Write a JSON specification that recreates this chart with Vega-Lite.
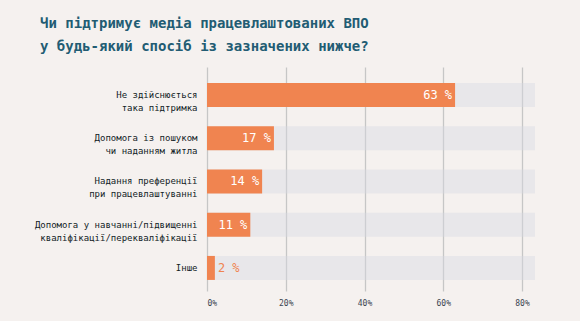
{
  "$schema": "https://vega.github.io/schema/vega-lite/v6.json",
  "width": 328,
  "height": 224,
  "autosize": "none",
  "padding": {"left": 207, "top": 67, "right": 45, "bottom": 30},
  "background": "#f5f1ef",
  "title": {
    "text": ["Чи підтримує медіа працевлаштованих ВПО", "у будь-який спосіб із зазначених нижче?"],
    "anchor": "start",
    "frame": "group",
    "dx": -167,
    "offset": 13,
    "font": "DejaVu Sans Mono",
    "fontSize": 14,
    "fontWeight": "bold",
    "color": "#225c73",
    "lineHeight": 23
  },
  "config": {
    "view": {"stroke": null},
    "axis": {"labelFont": "DejaVu Sans Mono"}
  },
  "data": {
    "values": [
      {"label": "Не здійснюється|така підтримка", "value": 63},
      {"label": "Допомога із пошуком|чи наданням житла", "value": 17},
      {"label": "Надання преференції|при працевлаштуванні", "value": 14},
      {"label": "Допомога у навчанні/підвищенні|кваліфікації/перекваліфікації", "value": 11},
      {"label": "Інше", "value": 2}
    ]
  },
  "transform": [{"calculate": "datum.value + ' %'", "as": "txt"}],
  "encoding": {
    "y": {
      "field": "label",
      "type": "nominal",
      "sort": null,
      "title": null,
      "scale": {"paddingInner": 0.445, "paddingOuter": 0.312, "align": 0.59},
      "axis": {
        "domain": false,
        "ticks": false,
        "labelExpr": "split(datum.label, '|')",
        "labelFontSize": 9,
        "labelLineHeight": 13,
        "labelColor": "#121c26",
        "labelPadding": 10,
        "labelLimit": 300
      }
    }
  },
  "layer": [
    {
      "mark": {"type": "bar", "fill": "#d6d8e2", "fillOpacity": 0.42},
      "encoding": {
        "x": {
          "datum": 83.3,
          "type": "quantitative",
          "scale": {"domain": [0, 83.3], "nice": false},
          "title": null,
          "axis": {
            "values": [0, 20, 40, 60, 80],
            "labelExpr": "datum.value + '%'",
            "domain": false,
            "ticks": false,
            "grid": true,
            "gridColor": "#c6c6c6",
            "gridWidth": 1.3,
            "labelFontSize": 8,
            "labelColor": "#3a4450",
            "labelPadding": 8
          }
        }
      }
    },
    {
      "mark": {"type": "bar", "fill": "#f08450"},
      "encoding": {"x": {"field": "value", "type": "quantitative", "title": null}}
    },
    {
      "transform": [{"filter": "datum.value >= 5"}],
      "mark": {"type": "text", "align": "right", "dx": -3, "font": "DejaVu Sans Mono", "fontSize": 12, "color": "#ffffff"},
      "encoding": {
        "x": {"field": "value", "type": "quantitative", "title": null},
        "text": {"field": "txt"}
      }
    },
    {
      "transform": [{"filter": "datum.value < 5"}],
      "mark": {"type": "text", "align": "left", "dx": 3, "font": "DejaVu Sans Mono", "fontSize": 12, "color": "#f08450"},
      "encoding": {
        "x": {"field": "value", "type": "quantitative", "title": null},
        "text": {"field": "txt"}
      }
    }
  ]
}
